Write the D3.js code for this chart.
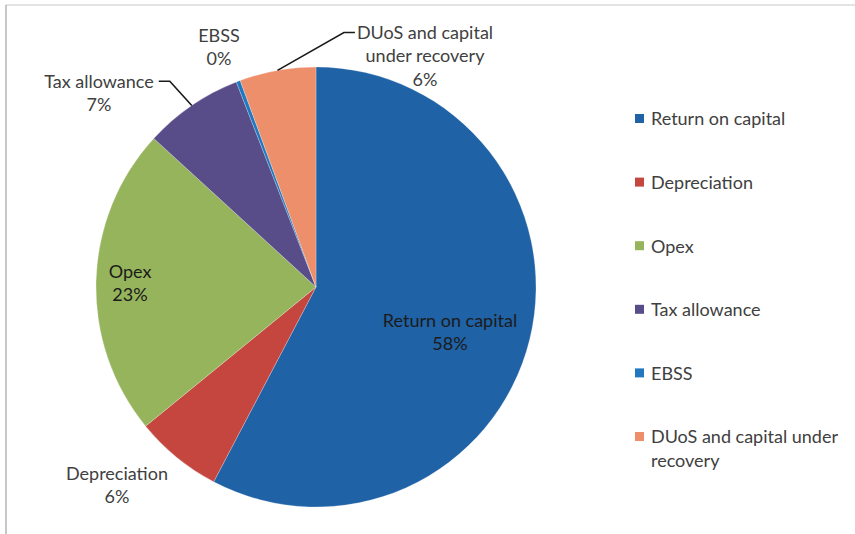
<!DOCTYPE html>
<html>
<head>
<meta charset="utf-8">
<script src="https://cdn.jsdelivr.net/npm/d3@7"></script>
<style>
  html, body { margin: 0; padding: 0; background: #fff; }
  svg { display: block; font-family: Lato, "Open Sans", sans-serif; }
</style>
</head>
<body>
<svg id="chart" width="855" height="534"></svg>
<script>
// ---- data ----
const categories = ["Return on capital", "Depreciation", "Opex", "Tax allowance", "EBSS", "DUoS and capital under recovery"];
const shares = [57.7, 6.4, 22.7, 7.3, 0.3, 5.6];
const labelLines = [["Return on capital"], ["Depreciation"], ["Opex"], ["Tax allowance"], ["EBSS"], ["DUoS and capital", "under recovery"]];
const legendLines = [["Return on capital"], ["Depreciation"], ["Opex"], ["Tax allowance"], ["EBSS"], ["DUoS and capital under", "recovery"]];
const colors = ["#1f62a6", "#c4463f", "#95b45c", "#584d88", "#1f78c0", "#ee8f6c"];

// ---- layout ----
const W = 855, H = 534;
const cx = 316, cy = 287, R = 220;
// label block centre offsets from pie centre (annotation layout)
const labelOffset = [[134, 45], [-199, 198], [-186, -4], [-217, -194], [-97, -240], [109, -231]];
const leader = [false, false, false, "right", false, "left"];
const insideLabel = [true, false, true, false, false, false];
const lineH = 23.5;
const fontSize = 18;

const svg = d3.select("#chart");

// frame (only top & left edges visible in the reference)
svg.append("line").attr("x1", 6).attr("y1", 5).attr("x2", W).attr("y2", 5)
  .attr("stroke", "#c8c8c8").attr("stroke-width", 1.2);
svg.append("line").attr("x1", 6).attr("y1", 5).attr("x2", 6).attr("y2", H)
  .attr("stroke", "#b4b4b4").attr("stroke-width", 1.5);

const total = d3.sum(shares);
const data = categories.map((c, i) => ({ name: c, value: shares[i], i }));
const pie = d3.pie().value(d => d.value).sort(null).startAngle(0).endAngle(2 * Math.PI);
const arcs = pie(data);
const arc = d3.arc().innerRadius(0).outerRadius(R);
const edgeArc = d3.arc().innerRadius(R).outerRadius(R);
const color = d3.scaleOrdinal().domain(categories).range(colors);

const g = svg.append("g").attr("transform", `translate(${cx},${cy})`);
g.selectAll("path.slice").data(arcs).enter().append("path")
  .attr("class", "slice")
  .attr("d", arc)
  .attr("fill", d => color(d.data.name))
  .attr("stroke", "#ffffff").attr("stroke-width", 0.4).attr("stroke-opacity", 0.6);

const pct = d3.format(".0f");

arcs.forEach((a, i) => {
  const lines = labelLines[i].concat([pct(a.data.value / total * 100) + "%"]);
  const [ox, oy] = labelOffset[i];
  const n = lines.length;
  const t = g.append("text")
    .attr("text-anchor", "middle")
    .attr("font-size", fontSize)
    .attr("fill", insideLabel[i] ? "#1b1b1b" : "#404040");
  lines.forEach((ln, k) => {
    t.append("tspan").attr("x", ox)
      .attr("y", oy + (k - (n - 1) / 2) * lineH + fontSize * 0.36)
      .text(ln);
  });
  if (leader[i]) {
    const bb = t.node().getBBox();
    const p = edgeArc.centroid(a);
    const yLine = oy - (n - 1) / 2 * lineH;
    let pts;
    if (leader[i] === "right") {
      const x0 = bb.x + bb.width + 5;
      pts = [[p[0], p[1]], [x0 + 11, yLine], [x0, yLine]];
    } else {
      const x0 = bb.x - 2;
      pts = [[p[0], p[1]], [x0 - 11, yLine], [x0, yLine]];
    }
    g.append("path").attr("d", d3.line()(pts))
      .attr("fill", "none").attr("stroke", "#1a1a1a").attr("stroke-width", 1.6);
  }
});

// legend
const legY = d3.scalePoint().domain(categories).range([119, 437]);
const leg = svg.append("g");
categories.forEach((c, i) => {
  const y = legY(c);
  leg.append("rect").attr("x", 635).attr("y", y - 5).attr("width", 9).attr("height", 9)
    .attr("fill", color(c));
  const t = leg.append("text").attr("font-size", fontSize).attr("fill", "#404040");
  legendLines[i].forEach((ln, k) => {
    t.append("tspan").attr("x", 651).attr("y", y + k * lineH + fontSize * 0.36).text(ln);
  });
});
</script>
</body>
</html>
